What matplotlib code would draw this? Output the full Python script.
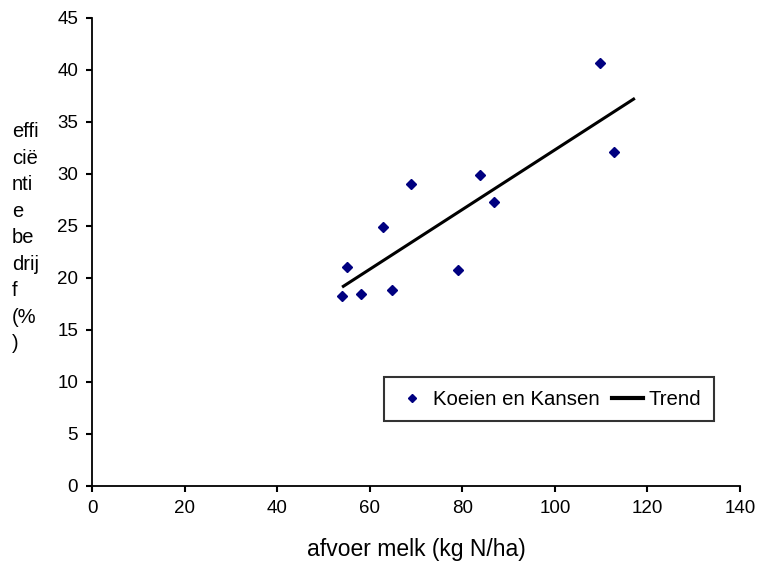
import numpy as np
import matplotlib.pyplot as plt

plt.rcParams['font.family'] = ['Liberation Sans', 'DejaVu Sans']

# data
melk = [54.0, 55.1, 58.1, 62.9, 64.8, 68.9, 79.1, 83.8, 86.8, 109.7, 112.8]
efficientie = [18.3, 21.1, 18.5, 24.9, 18.8, 29.0, 20.8, 29.9, 27.3, 40.7, 32.1]
trend_x = [54.3, 117.0]
trend_y = [19.2, 37.2]

xticks = [0, 20, 40, 60, 80, 100, 120, 140]
yticks = [0, 5, 10, 15, 20, 25, 30, 35, 40, 45]

fig = plt.figure(figsize=(7.58, 5.67), dpi=100)
ax = fig.add_axes([0.1214, 0.1429, 0.9763 - 0.1214, 0.9683 - 0.1429])

ax.plot(melk, efficientie, linestyle='none', marker='D', markersize=5.5,
        color='#000080', label='Koeien en Kansen')
ax.plot(trend_x, trend_y, color='black', linewidth=2.2, label='Trend')

ax.set_xlim(0, 140)
ax.set_ylim(0, 45)
ax.set_xticks(xticks)
ax.set_yticks(yticks)
ax.tick_params(labelsize=13.5, direction='out', length=4, width=1.5,
               color='black', pad=6)
for side in ['top', 'right']:
    ax.spines[side].set_visible(False)
for side in ['left', 'bottom']:
    ax.spines[side].set_linewidth(1.3)

ax.set_xlabel('afvoer melk (kg N/ha)', fontsize=16.5, labelpad=15)
fig.text(0.016, 0.581, 'effi\ncië\nnti\ne\nbe\ndrij\nf\n(%\n)',
         fontsize=14.5, ha='left', va='center', linespacing=1.5)

leg = ax.legend(ncol=2, loc='lower left', bbox_to_anchor=(0.4506, 0.139),
                fontsize=14.7, frameon=True, fancybox=False, borderpad=0.6,
                handlelength=1.5, handletextpad=0.3, columnspacing=0.6,
                borderaxespad=0)
leg.get_frame().set_edgecolor('black')
leg.get_frame().set_linewidth(1.5)
leg.legend_handles[0].set_markersize(4.5)
leg.legend_handles[1].set_linewidth(3)

plt.savefig('out.png', dpi=100)
